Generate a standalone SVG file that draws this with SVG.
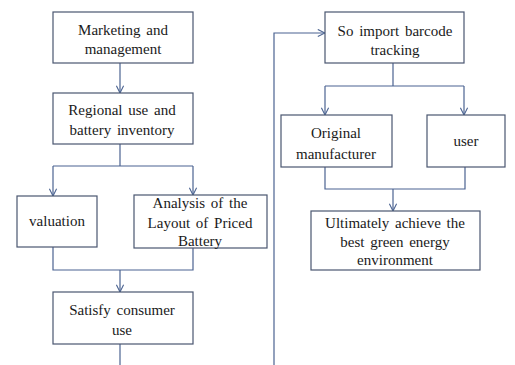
<svg xmlns="http://www.w3.org/2000/svg" width="515" height="365" viewBox="0 0 515 365">
<style>
.box{fill:#fff;stroke:#4a5670;stroke-width:1.2}
.t{font-family:'Liberation Serif','Times New Roman',Tinos,'DejaVu Serif',serif;font-size:15px;fill:#1a1a1a;text-anchor:middle;word-spacing:2px}
.c{fill:none;stroke:#4b6391;stroke-width:1.2}
</style>
<defs>
<marker id="ah" viewBox="0 0 10 10" refX="9" refY="5" markerWidth="9" markerHeight="9" orient="auto" markerUnits="userSpaceOnUse">
<path d="M1,1 L9,5 L1,9" fill="none" stroke="#4b6391" stroke-width="1.2"/>
</marker>
</defs>
<rect width="515" height="365" fill="#fff"/>
<g id="connectors">
<path class="c" d="M120,63 V93" marker-end="url(#ah)"/>
<path class="c" d="M120,144 V166 M53,166 H193"/>
<path class="c" d="M53,166 V196" marker-end="url(#ah)"/>
<path class="c" d="M193,166 V195" marker-end="url(#ah)"/>
<path class="c" d="M53,247 V270 H193 V248"/>
<path class="c" d="M120,270 V292" marker-end="url(#ah)"/>
<path class="c" d="M120,344 V365"/>
<path class="c" d="M274,365 V33 H325" marker-end="url(#ah)"/>
<path class="c" d="M393,63 V86 M325,86 H464"/>
<path class="c" d="M325,86 V115" marker-end="url(#ah)"/>
<path class="c" d="M464,86 V115" marker-end="url(#ah)"/>
<path class="c" d="M325,167 V189 H465 V167"/>
<path class="c" d="M393,189 V211" marker-end="url(#ah)"/>
</g>
<g id="n1"><rect class="box" x="53" y="12" width="140" height="51"/><text class="t" x="123" y="35" font-family="Liberation Serif, serif">Marketing  and</text><text class="t" x="123" y="54">management</text></g>
<g id="n2"><rect class="box" x="53" y="93" width="140" height="51"/><text class="t" x="122" y="115">Regional  use and</text><text class="t" x="122" y="135">battery  inventory</text></g>
<g id="n3"><rect class="box" x="17" y="196" width="80" height="51"/><text class="t" x="57" y="226">valuation</text></g>
<g id="n4"><rect class="box" x="134" y="195" width="133" height="53"/><text class="t" x="200" y="208">Analysis  of the</text><text class="t" x="200" y="228">Layout  of Priced</text><text class="t" x="200" y="246">Battery</text></g>
<g id="n5"><rect class="box" x="53" y="292" width="140" height="52"/><text class="t" x="122" y="315">Satisfy  consumer</text><text class="t" x="122" y="335">use</text></g>
<g id="n6"><rect class="box" x="325" y="12" width="139" height="51"/><text class="t" x="395" y="36">So import  barcode</text><text class="t" x="395" y="55">tracking</text></g>
<g id="n7"><rect class="box" x="281" y="115" width="111" height="52"/><text class="t" x="336" y="138">Original</text><text class="t" x="336" y="159">manufacturer</text></g>
<g id="n8"><rect class="box" x="427" y="115" width="78" height="52"/><text class="t" x="466" y="146">user</text></g>
<g id="n9"><rect class="box" x="311" y="211" width="169" height="59"/><text class="t" x="395" y="228">Ultimately  achieve  the</text><text class="t" x="395" y="247">best green energy</text><text class="t" x="395" y="265">environment</text></g>
</svg>
